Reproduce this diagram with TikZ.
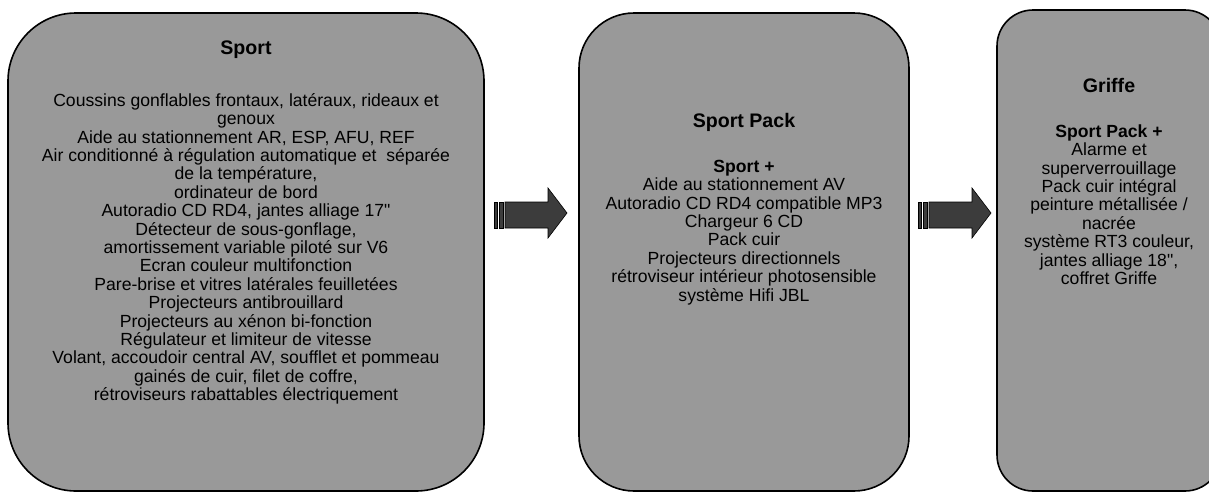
\documentclass[tikz,border=0pt]{standalone}
\usepackage{fontspec}
\setmainfont{Liberation Sans}[Ligatures=TeXOff]
\definecolor{boxgray}{HTML}{999999}
\definecolor{arrowgray}{HTML}{3C3C3C}
\newcommand{\fl}{\rule{0pt}{15pt}}
\newcommand{\dq}{\symbol{34}}
\begin{document}
\begin{tikzpicture}[x=1pt,y=-1pt,
  panel/.style={draw=black,line width=1.6pt,fill=boxgray},
  titletext/.style={anchor=base,inner sep=0pt,font=\fontsize{19.6}{21.5}\selectfont\bfseries},
  bodytext/.style={anchor=north,inner sep=0pt,align=center,font=\fontsize{17.6}{18.4}\selectfont},
  blockarrow/.style={draw=black,line width=0.6pt,fill=arrowgray}]
\useasboundingbox (0,0) rectangle (1209,493);
\begin{scope}
\clip (0,0) rectangle (1209,493);
\draw[panel,rounded corners=68pt] (8,13) rectangle (484,491);
\draw[panel,rounded corners=55pt] (579,13) rectangle (909,491);
\draw[panel,rounded corners=36pt] (997,10) rectangle (1221,491);
\end{scope}
\node[titletext] (t1) at (246,54) {Sport};
\node[bodytext] (b1) at (246,91) {\fl Coussins gonflables frontaux, latéraux, rideaux et\\
genoux\\
Aide au stationnement AR, ESP, AFU, REF\\
Air conditionné à régulation automatique et \ séparée\\
de la température,\\
ordinateur de bord\\
Autoradio CD RD4, jantes alliage 17\dq\\
Détecteur de sous-gonflage,\\
amortissement variable piloté sur V6\\
Ecran couleur multifonction\\
Pare-brise et vitres latérales feuilletées\\
Projecteurs antibrouillard\\
Projecteurs au xénon bi-fonction\\
Régulateur et limiteur de vitesse\\
Volant, accoudoir central AV, soufflet et pommeau\\
gainés de cuir, filet de coffre,\\
rétroviseurs rabattables électriquement};
\node[titletext] (t2) at (744,127) {Sport Pack};
\node[bodytext] (b2) at (744,157) {\fl\textbf{Sport +}\\
Aide au stationnement AV\\
Autoradio CD RD4 compatible MP3\\
Chargeur 6 CD\\
Pack cuir\\
Projecteurs directionnels\\
rétroviseur intérieur photosensible\\
système Hifi JBL};
\node[titletext] (t3) at (1109,92) {Griffe};
\node[bodytext] (b3) at (1109,122) {\fl\textbf{Sport Pack +}\\
Alarme et\\
superverrouillage\\
Pack cuir intégral\\
peinture métallisée /\\
nacrée\\
système RT3 couleur,\\
jantes alliage 18\dq,\\
coffret Griffe};
% block arrows
\foreach \x/\n in {494/a1,918/a2}{
  \draw[blockarrow] (\x,202) rectangle ++(3,26);
  \draw[blockarrow] (\x+5,202) rectangle ++(4,26);
  \draw[blockarrow] (\x+11,202) -- (\x+54,202) -- (\x+54,188) -- (\x+73,213)
     -- (\x+54,238) -- (\x+54,228) -- (\x+11,228) -- cycle;
}
\end{tikzpicture}
\end{document}
